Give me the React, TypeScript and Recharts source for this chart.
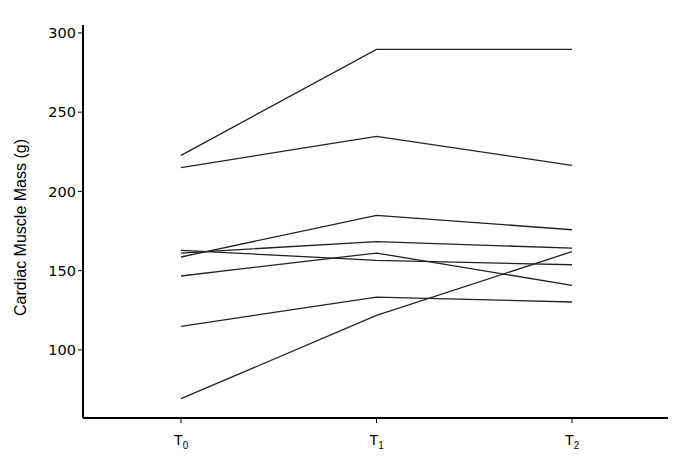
import React from 'react'
import { LineChart, Line, XAxis, YAxis } from 'recharts'

// time points (T0, T1, T2) and one series per subject
const timePoints = ['0', '1', '2']
const subjectA = [222.7, 289.6, 289.6]
const subjectB = [215, 234.7, 216.4]
const subjectC = [158.6, 184.9, 175.8]
const subjectD = [161.1, 168.3, 164.2]
const subjectE = [146.6, 161.1, 140.7]
const subjectF = [162.8, 156.5, 153.7]
const subjectG = [114.8, 133.3, 130.2]
const subjectH = [69.2, 121.7, 162]
const yTicks = [100, 150, 200, 250, 300]

const subjects = [subjectA, subjectB, subjectC, subjectD, subjectE, subjectF, subjectG, subjectH]

const chartData = timePoints.map((t, i) => {
  const row: Record<string, string | number> = { t }
  subjects.forEach((s, k) => {
    row[`s${k}`] = s[i]
  })
  return row
})

const TimeTick = (props: any) => {
  const { x, y, payload } = props
  return (
    <text x={x} y={y + 20} textAnchor="middle" fontFamily="'Liberation Sans', Arial, sans-serif" fontSize={15} fill="#000">
      T
      <tspan fontSize={10} dy={4}>{payload.value}</tspan>
    </text>
  )
}

export default function App() {
  return (
    <LineChart
      width={678}
      height={454}
      data={chartData}
      margin={{ top: 17, right: 18, left: 0, bottom: 14 }}
    >
      <XAxis
        dataKey="t"
        padding={{ left: 98, right: 96 }}
        axisLine={{ stroke: '#000', strokeWidth: 2 }}
        tickLine={{ stroke: '#000' }}
        tickSize={5}
        height={30}
        tick={<TimeTick />}
      />
      <YAxis
        type="number"
        domain={[57, 305]}
        allowDataOverflow
        ticks={yTicks}
        width={75}
        axisLine={{ stroke: '#000', strokeWidth: 2 }}
        tickLine={{ stroke: '#000' }}
        tickSize={5}
        tick={{ fill: '#000', fontSize: 14.5, fontFamily: "'DejaVu Sans', Verdana, sans-serif" }}
        label={{
          value: 'Cardiac Muscle Mass (g)',
          angle: -90,
          position: 'center',
          dx: -25,
          dy: 6,
          style: { fontFamily: "'Liberation Sans', Arial, sans-serif", fontSize: 16, fill: '#000', textAnchor: 'middle' },
        }}
      />
      {subjects.map((_, k) => (
        <Line
          key={k}
          type="linear"
          dataKey={`s${k}`}
          stroke="#222"
          strokeWidth={1.3}
          dot={false}
          isAnimationActive={false}
        />
      ))}
    </LineChart>
  )
}
